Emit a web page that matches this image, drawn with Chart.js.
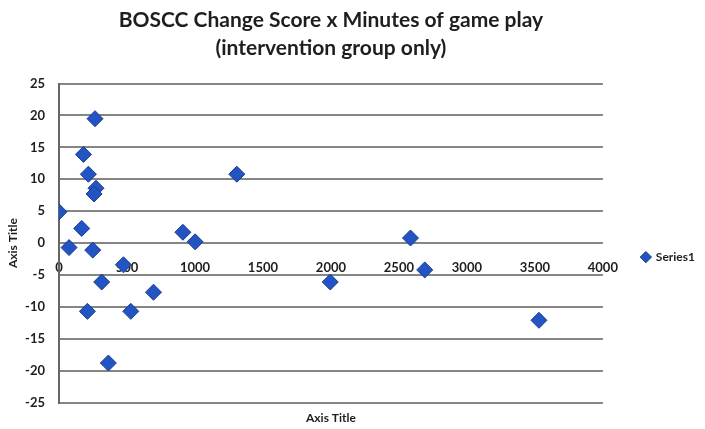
<!DOCTYPE html>
<html>
<head>
<meta charset="utf-8">
<script src="https://cdn.jsdelivr.net/npm/chart.js@4.4.1/dist/chart.umd.min.js"></script>
<style>
  html, body { margin: 0; padding: 0; background: #fff; }
  #wrap { width: 705px; height: 429px; }
</style>
</head>
<body>
<div id="wrap"><canvas id="myChart"></canvas></div>
<script>
// minutes of game play (x) and BOSCC change score (y)
const minutes = [0, 74, 167, 180, 265, 216, 272, 258, 248, 209, 314, 363, 474, 528, 695, 911, 1001, 1308, 1995, 2585, 2690, 3530];
const changeScore = [4.9, -0.7, 2.3, 13.9, 19.5, 10.8, 8.6, 7.7, -1.1, -10.7, -6.1, -18.8, -3.4, -10.7, -7.7, 1.7, 0.2, 10.8, -6.1, 0.8, -4.2, -12.1];
const titleLines = ['BOSCC Change Score x Minutes of game play', '(intervention group only)'];
const seriesName = 'Series1';
const xTitle = 'Axis Title';
const yTitle = 'Axis Title';

const pts = minutes.map((m, i) => ({ x: m, y: changeScore[i] }));
const fontFam = 'Lato, "Open Sans", sans-serif';

const ctx = document.getElementById('myChart');

const chrt = new Chart(ctx, {
  type: 'scatter',
  data: {
    datasets: [
      {
        label: seriesName,
        data: pts,
        pointStyle: 'rectRot',
        pointRadius: 8,
        pointHoverRadius: 8,
        backgroundColor: '#2254c3',
        borderColor: '#1a3c8c',
        borderWidth: 1
      }
    ]
  },
  options: {
    maintainAspectRatio: false,
    responsive: true,
    animation: false,
    layout: { padding: { left: 2, right: 0, top: 4, bottom: 4 } },
    plugins: {
      title: {
        display: true,
        fullSize: false,
        text: titleLines,
        color: '#1e1e1e',
        font: { family: fontFam, size: 21, weight: 'bold', lineHeight: 1.3 },
        padding: { top: 3, bottom: 22 }
      },
      legend: {
        position: 'right',
        fullSize: false,
        title: { display: true, text: ' ', font: { size: 10 }, padding: 8 },
        labels: {
          usePointStyle: true,
          pointStyle: 'rectRot',
          boxWidth: 8,
          boxHeight: 8,
          padding: 39,
          color: '#1e1e1e',
          font: { family: fontFam, size: 12, weight: 'bold' }
        }
      },
      tooltip: { enabled: false }
    },
    scales: {
      x: {
        type: 'linear',
        min: 0,
        max: 4000,
        grid: { display: false },
        border: { display: false },
        ticks: { display: false },
        title: {
          display: true,
          text: xTitle,
          color: '#1e1e1e',
          font: { family: fontFam, size: 12, weight: 'bold' },
          padding: 0
        }
      },
      x2: {
        type: 'linear',
        position: { y: 0 },
        min: 0,
        max: 4000,
        grid: { display: false, drawTicks: false },
        border: { display: false },
        ticks: {
          stepSize: 500,
          padding: 17,
          color: '#1e1e1e',
          font: { family: fontFam, size: 13, weight: 'bold' },
          callback: (v) => String(v)
        }
      },
      y: {
        min: -25,
        max: 25,
        afterFit: (s) => { s.width = 57; },
        border: { display: true, color: '#666', width: 2 },
        grid: { color: '#858585', lineWidth: 2, drawTicks: false },
        ticks: {
          stepSize: 5,
          padding: 14,
          color: '#1e1e1e',
          font: { family: fontFam, size: 13, weight: 'bold' }
        },
        title: {
          display: true,
          text: yTitle,
          color: '#1e1e1e',
          font: { family: fontFam, size: 12, weight: 'bold' },
          padding: { top: 4, bottom: 4 }
        }
      }
    }
  }
});

console.log(chrt);
</script>
</body>
</html>
